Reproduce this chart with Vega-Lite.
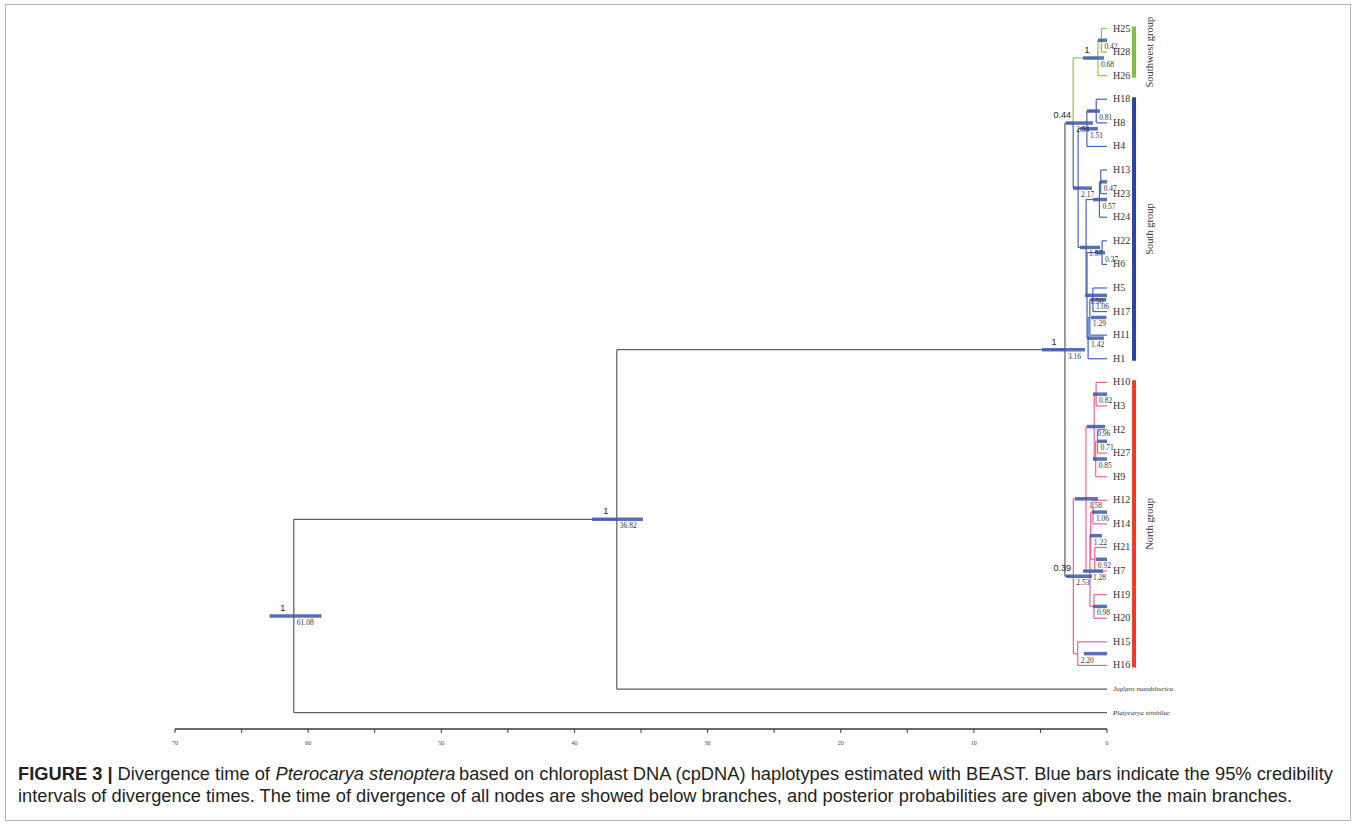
{
  "$schema": "https://vega.github.io/schema/vega-lite/v6.json",
  "width": 1355,
  "height": 824,
  "autosize": {"type": "fit", "contains": "padding"},
  "padding": {"left": 5, "right": 5, "top": 4, "bottom": 4},
  "background": "white",
  "view": {"stroke": "#b5b5b5", "strokeWidth": 1},
  "datasets": {
    "nodes": [
      {"id": "H25", "parent": "n042", "t": 0, "y": 0, "clade": "sw"},
      {"id": "H28", "parent": "n042", "t": 0, "y": 1, "clade": "sw"},
      {"id": "H26", "parent": "n068", "t": 0, "y": 2, "clade": "sw"},
      {"id": "H18", "parent": "n081", "t": 0, "y": 3, "clade": "south"},
      {"id": "H8", "parent": "n081", "t": 0, "y": 4, "clade": "south"},
      {"id": "H4", "parent": "n151", "t": 0, "y": 5, "clade": "south"},
      {"id": "H13", "parent": "n047", "t": 0, "y": 6, "clade": "south"},
      {"id": "H23", "parent": "n047", "t": 0, "y": 7, "clade": "south"},
      {"id": "H24", "parent": "n057", "t": 0, "y": 8, "clade": "south"},
      {"id": "H22", "parent": "n037", "t": 0, "y": 9, "clade": "south"},
      {"id": "H6", "parent": "n037", "t": 0, "y": 10, "clade": "south"},
      {"id": "H5", "parent": "n106s", "t": 0, "y": 11, "clade": "south"},
      {"id": "H17", "parent": "n106s", "t": 0, "y": 12, "clade": "south"},
      {"id": "H11", "parent": "n129", "t": 0, "y": 13, "clade": "south"},
      {"id": "H1", "parent": "n142", "t": 0, "y": 14, "clade": "south"},
      {"id": "H10", "parent": "n082", "t": 0, "y": 15, "clade": "north"},
      {"id": "H3", "parent": "n082", "t": 0, "y": 16, "clade": "north"},
      {"id": "H2", "parent": "n071", "t": 0, "y": 17, "clade": "north"},
      {"id": "H27", "parent": "n071", "t": 0, "y": 18, "clade": "north"},
      {"id": "H9", "parent": "n085", "t": 0, "y": 19, "clade": "north"},
      {"id": "H12", "parent": "n106n", "t": 0, "y": 20, "clade": "north"},
      {"id": "H14", "parent": "n106n", "t": 0, "y": 21, "clade": "north"},
      {"id": "H21", "parent": "n092", "t": 0, "y": 22, "clade": "north"},
      {"id": "H7", "parent": "n092", "t": 0, "y": 23, "clade": "north"},
      {"id": "H19", "parent": "n098", "t": 0, "y": 24, "clade": "north"},
      {"id": "H20", "parent": "n098", "t": 0, "y": 25, "clade": "north"},
      {"id": "H15", "parent": "n220", "t": 0, "y": 26, "clade": "north"},
      {"id": "H16", "parent": "n220", "t": 0, "y": 27, "clade": "north"},
      {"id": "Juglans mandshurica", "parent": "n3682", "t": 0, "y": 28, "clade": "backbone"},
      {"id": "Platycarya strobilacea", "parent": "root", "t": 0, "y": 29, "clade": "backbone"},
      {"id": "n042", "parent": "n068", "t": 0.42, "y": 0.5, "clade": "sw", "lo": 0, "hi": 0.68},
      {"id": "n068", "parent": "n254", "t": 0.68, "y": 1.25, "clade": "sw", "post": 1, "lo": 0.23, "hi": 1.8},
      {"id": "n081", "parent": "n151", "t": 0.81, "y": 3.5, "clade": "south", "lo": 0.53, "hi": 1.5},
      {"id": "n151", "parent": "n217", "t": 1.51, "y": 4.25, "clade": "south", "lo": 0.68, "hi": 2.03},
      {"id": "n047", "parent": "n057", "t": 0.47, "y": 6.5, "clade": "south", "lo": 0, "hi": 0.53},
      {"id": "n057", "parent": "n157", "t": 0.57, "y": 7.25, "clade": "south", "lo": 0, "hi": 1.05},
      {"id": "n037", "parent": "n150", "t": 0.37, "y": 9.5, "clade": "south", "lo": 0.15, "hi": 0.9},
      {"id": "n106s", "parent": "n129", "t": 1.06, "y": 11.5, "clade": "south", "lo": 0.05, "hi": 1.2},
      {"id": "n129", "parent": "n142", "t": 1.29, "y": 12.25, "clade": "south", "lo": 0.05, "hi": 1.2},
      {"id": "n142", "parent": "n150", "t": 1.42, "y": 13.125, "clade": "south", "lo": 0.23, "hi": 1.5},
      {"id": "n150", "parent": "n157", "t": 1.5, "y": 11.3125, "clade": "south", "lo": 0, "hi": 1.65},
      {"id": "n157", "parent": "n217", "t": 1.57, "y": 9.28125, "clade": "south", "lo": 0.53, "hi": 2.03},
      {"id": "n217", "parent": "n254", "t": 2.17, "y": 6.765625, "clade": "south", "lo": 1.13, "hi": 2.55},
      {"id": "n254", "parent": "n316", "t": 2.54, "y": 4.0078125, "clade": "backbone", "post": 0.44, "lo": 1.05, "hi": 3.08},
      {"id": "n082", "parent": "n096", "t": 0.82, "y": 15.5, "clade": "north", "lo": 0, "hi": 1.05},
      {"id": "n071", "parent": "n085", "t": 0.71, "y": 17.5, "clade": "north", "lo": 0, "hi": 0.7},
      {"id": "n085", "parent": "n096", "t": 0.85, "y": 18.25, "clade": "north", "lo": 0, "hi": 1.05},
      {"id": "n096", "parent": "n158", "t": 0.96, "y": 16.875, "clade": "north", "lo": 0.15, "hi": 1.5},
      {"id": "n106n", "parent": "n122", "t": 1.06, "y": 20.5, "clade": "north", "lo": 0, "hi": 1.13},
      {"id": "n092", "parent": "n122", "t": 0.92, "y": 22.5, "clade": "north", "lo": 0, "hi": 0.85},
      {"id": "n122", "parent": "n128", "t": 1.22, "y": 21.5, "clade": "north", "lo": 0.38, "hi": 1.3},
      {"id": "n098", "parent": "n128", "t": 0.98, "y": 24.5, "clade": "north", "lo": 0, "hi": 1.05},
      {"id": "n128", "parent": "n158", "t": 1.28, "y": 23, "clade": "north", "lo": 0.3, "hi": 1.8},
      {"id": "n158", "parent": "n253", "t": 1.58, "y": 19.9375, "clade": "north", "lo": 0.68, "hi": 2.4},
      {"id": "n220", "parent": "n253", "t": 2.2, "y": 26.5, "clade": "north", "lo": 0, "hi": 1.73},
      {"id": "n253", "parent": "n316", "t": 2.53, "y": 23.21875, "clade": "backbone", "post": 0.39, "lo": 1.13, "hi": 3.08},
      {"id": "n316", "parent": "n3682", "t": 3.16, "y": 13.61328, "clade": "backbone", "post": 1, "lo": 1.65, "hi": 4.88},
      {"id": "n3682", "parent": "root", "t": 36.82, "y": 20.80664, "clade": "backbone", "post": 1, "lo": 34.85, "hi": 38.68},
      {"id": "root", "t": 61.08, "y": 24.90332, "clade": "backbone", "post": 1, "lo": 59.0, "hi": 62.9}
    ],
    "groups": [
      {"label": "Southwest group", "key": "sw_bar", "first": "H25", "last": "H26"},
      {"label": "South group", "key": "south_bar", "first": "H18", "last": "H1"},
      {"label": "North group", "key": "north_bar", "first": "H10", "last": "H16"}
    ],
    "ticks": [
      {"v": 0}, {"v": 5}, {"v": 10}, {"v": 15}, {"v": 20}, {"v": 25}, {"v": 30}, {"v": 35},
      {"v": 40}, {"v": 45}, {"v": 50}, {"v": 55}, {"v": 60}, {"v": 65}, {"v": 70}
    ]
  },
  "layer": [
    {
      "data": {"name": "nodes"},
      "transform": [
        {"filter": "isValid(datum.parent)"},
        {"lookup": "parent", "from": {"data": {"name": "nodes"}, "key": "id", "fields": ["t", "y"]}, "as": ["pt", "py"]}
      ],
      "mark": {"type": "rule", "strokeWidth": 1.2},
      "encoding": {
        "x": {"field": "pt", "type": "quantitative", "scale": {"domain": [-18.251, 82.77], "reverse": true, "nice": false, "zero": false}, "axis": null},
        "x2": {"field": "t"},
        "y": {"field": "y", "type": "quantitative", "scale": {"domain": [-1.0386, 33.552], "reverse": true, "nice": false, "zero": false}, "axis": null},
        "color": {"field": "clade", "type": "nominal", "legend": null,
          "scale": {"domain": ["backbone", "sw", "south", "north", "sw_bar", "south_bar", "north_bar"],
                    "range": ["#5e5e5e", "#8dc63f", "#4562c0", "#ec5f97", "#7cc242", "#2646a8", "#ee3b24"]}}
      }
    },
    {
      "data": {"name": "nodes"},
      "transform": [
        {"filter": "isValid(datum.parent)"},
        {"lookup": "parent", "from": {"data": {"name": "nodes"}, "key": "id", "fields": ["t", "y"]}, "as": ["pt", "py"]}
      ],
      "mark": {"type": "rule", "strokeWidth": 1.2},
      "encoding": {
        "x": {"field": "pt", "type": "quantitative"},
        "y": {"field": "py", "type": "quantitative"},
        "y2": {"field": "y"},
        "color": {"field": "clade", "type": "nominal", "legend": null}
      }
    },
    {
      "data": {"name": "nodes"},
      "transform": [{"filter": "isValid(datum.hi)"}],
      "mark": {"type": "rule", "strokeWidth": 3.5, "color": "#3f5daa", "opacity": 0.88},
      "encoding": {
        "x": {"field": "lo", "type": "quantitative"},
        "x2": {"field": "hi"},
        "y": {"field": "y", "type": "quantitative"}
      }
    },
    {
      "data": {"name": "nodes"},
      "transform": [{"filter": "isValid(datum.hi)"}],
      "mark": {"type": "text", "font": "Liberation Serif", "fontSize": 7.5, "color": "#333333", "align": "left", "baseline": "middle", "dx": 3, "dy": 7},
      "encoding": {
        "x": {"field": "t", "type": "quantitative"},
        "y": {"field": "y", "type": "quantitative"},
        "text": {"field": "t", "type": "quantitative", "format": ".2f"}
      }
    },
    {
      "data": {"name": "nodes"},
      "transform": [{"filter": "isValid(datum.post)"}],
      "mark": {"type": "text", "font": "Liberation Sans", "fontSize": 9, "color": "#222222", "align": "center", "baseline": "middle", "dx": -11, "dy": -8},
      "encoding": {
        "x": {"field": "t", "type": "quantitative"},
        "y": {"field": "y", "type": "quantitative"},
        "text": {"field": "post", "type": "nominal"}
      }
    },
    {
      "data": {"name": "nodes"},
      "transform": [{"filter": "datum.t == 0 && datum.clade != 'backbone'"}],
      "mark": {"type": "text", "font": "Liberation Serif", "fontSize": 10, "color": "#333333", "align": "left", "baseline": "middle", "dx": 6},
      "encoding": {
        "x": {"field": "t", "type": "quantitative"},
        "y": {"field": "y", "type": "quantitative"},
        "text": {"field": "id", "type": "nominal"}
      }
    },
    {
      "data": {"name": "nodes"},
      "transform": [{"filter": "datum.t == 0 && datum.clade == 'backbone'"}],
      "mark": {"type": "text", "font": "Liberation Serif", "fontStyle": "italic", "fontSize": 7, "color": "#333333", "align": "left", "baseline": "middle", "dx": 6, "limit": 61.5, "ellipsis": " "},
      "encoding": {
        "x": {"field": "t", "type": "quantitative"},
        "y": {"field": "y", "type": "quantitative"},
        "text": {"field": "id", "type": "nominal"}
      }
    },
    {
      "data": {"name": "groups"},
      "transform": [
        {"lookup": "first", "from": {"data": {"name": "nodes"}, "key": "id", "fields": ["y"]}, "as": ["y1"]},
        {"lookup": "last", "from": {"data": {"name": "nodes"}, "key": "id", "fields": ["y"]}, "as": ["y2"]}
      ],
      "mark": {"type": "rule", "strokeWidth": 4, "strokeCap": "square"},
      "encoding": {
        "x": {"datum": -2.03, "type": "quantitative"},
        "y": {"field": "y1", "type": "quantitative"},
        "y2": {"field": "y2"},
        "color": {"field": "key", "type": "nominal", "legend": null}
      }
    },
    {
      "data": {"name": "groups"},
      "transform": [
        {"lookup": "first", "from": {"data": {"name": "nodes"}, "key": "id", "fields": ["y"]}, "as": ["y1"]},
        {"lookup": "last", "from": {"data": {"name": "nodes"}, "key": "id", "fields": ["y"]}, "as": ["y2"]},
        {"calculate": "(datum.y1 + datum.y2) / 2", "as": "mid"}
      ],
      "mark": {"type": "text", "font": "Liberation Serif", "fontSize": 10.5, "color": "#333333", "angle": 270, "align": "center", "baseline": "middle"},
      "encoding": {
        "x": {"datum": -3.25, "type": "quantitative"},
        "y": {"field": "mid", "type": "quantitative"},
        "text": {"field": "label", "type": "nominal"}
      }
    },
    {
      "data": {"values": [{}]},
      "mark": {"type": "rule", "strokeWidth": 1.5, "color": "#3a3a3a"},
      "encoding": {
        "x": {"datum": 70, "type": "quantitative"},
        "x2": {"datum": 0},
        "y": {"datum": 29.69, "type": "quantitative"}
      }
    },
    {
      "data": {"name": "ticks"},
      "mark": {"type": "rule", "strokeWidth": 1, "color": "#3a3a3a"},
      "encoding": {
        "x": {"field": "v", "type": "quantitative"},
        "y": {"datum": 29.69, "type": "quantitative"},
        "y2": {"datum": 29.86}
      }
    },
    {
      "data": {"name": "ticks"},
      "transform": [{"filter": "datum.v % 10 == 0"}],
      "mark": {"type": "text", "font": "Liberation Serif", "fontSize": 6, "color": "#444444", "align": "center", "baseline": "middle"},
      "encoding": {
        "x": {"field": "v", "type": "quantitative"},
        "y": {"datum": 30.3, "type": "quantitative"},
        "text": {"field": "v", "type": "quantitative"}
      }
    },
    {
      "data": {"values": [{}]},
      "mark": {"type": "text", "font": "Liberation Sans", "fontWeight": "bold", "fontSize": 18.3, "color": "#231f20", "align": "left", "baseline": "middle"},
      "encoding": {
        "x": {"datum": 81.79, "type": "quantitative"},
        "y": {"datum": 31.645, "type": "quantitative"},
        "text": {"value": "FIGURE 3 |"}
      }
    },
    {
      "data": {"values": [{}]},
      "mark": {"type": "text", "font": "Liberation Sans", "fontSize": 18.3, "color": "#231f20", "align": "left", "baseline": "middle"},
      "encoding": {
        "x": {"datum": 74.32, "type": "quantitative"},
        "y": {"datum": 31.645, "type": "quantitative"},
        "text": {"value": "Divergence time of"}
      }
    },
    {
      "data": {"values": [{}]},
      "mark": {"type": "text", "font": "Liberation Sans", "fontStyle": "italic", "fontSize": 18.3, "color": "#231f20", "align": "left", "baseline": "middle"},
      "encoding": {
        "x": {"datum": 62.45, "type": "quantitative"},
        "y": {"datum": 31.645, "type": "quantitative"},
        "text": {"value": "Pterocarya stenoptera"}
      }
    },
    {
      "data": {"values": [{}]},
      "mark": {"type": "text", "font": "Liberation Sans", "fontSize": 18.3, "color": "#231f20", "align": "left", "baseline": "middle"},
      "encoding": {
        "x": {"datum": 48.67, "type": "quantitative"},
        "y": {"datum": 31.645, "type": "quantitative"},
        "text": {"value": "based on chloroplast DNA (cpDNA) haplotypes estimated with BEAST. Blue bars indicate the 95% credibility"}
      }
    },
    {
      "data": {"values": [{}]},
      "mark": {"type": "text", "font": "Liberation Sans", "fontSize": 18.3, "color": "#231f20", "align": "left", "baseline": "middle"},
      "encoding": {
        "x": {"datum": 81.79, "type": "quantitative"},
        "y": {"datum": 32.578, "type": "quantitative"},
        "text": {"value": "intervals of divergence times. The time of divergence of all nodes are showed below branches, and posterior probabilities are given above the main branches."}
      }
    }
  ]
}
